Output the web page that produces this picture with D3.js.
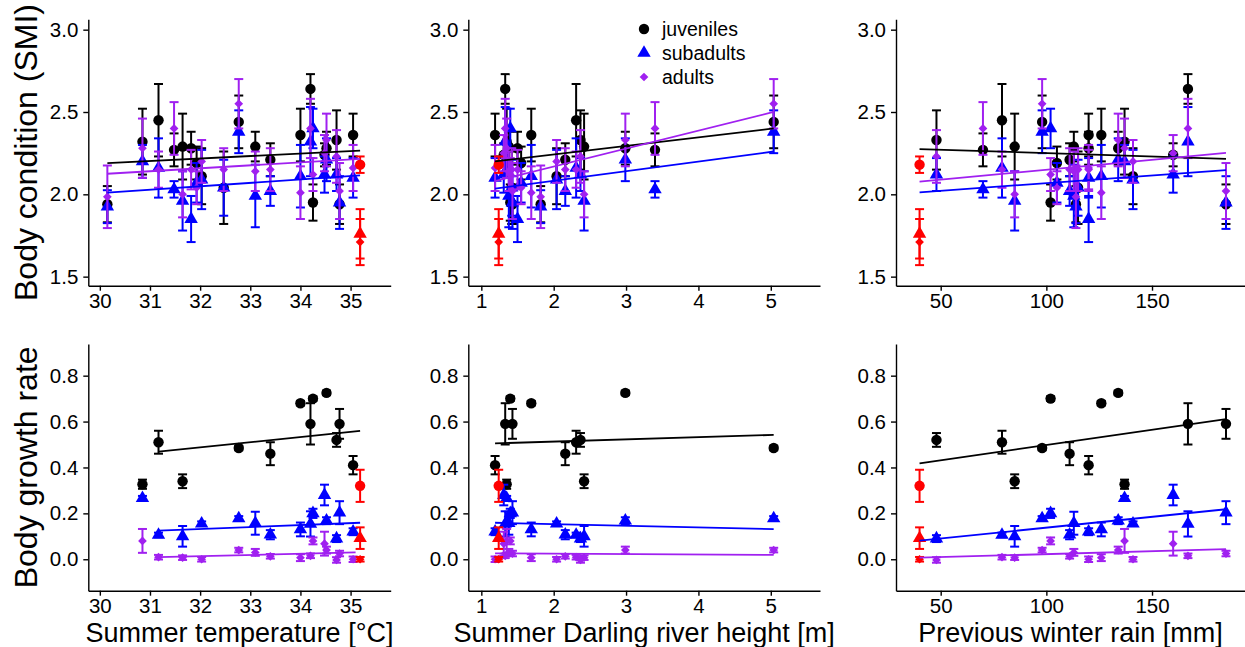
<!DOCTYPE html>
<html>
<head>
<meta charset="utf-8">
<script src="https://cdn.jsdelivr.net/npm/d3@7"></script>
<style>
  body { margin: 0; background: #fff; }
  svg { display: block; font-family: "Liberation Sans", Arial, sans-serif; }
</style>
</head>
<body>
<div id="chart"></div>
<script>
// one entry per year; the last year is the outlier drawn in red
const temp  = [30.15, 30.85, 31.17, 31.48, 31.65, 31.82, 31.93, 32.03, 32.47, 32.77, 33.10, 33.40, 34.00, 34.20, 34.25, 34.52, 34.48, 34.72, 34.78, 35.05, 35.19];
const river = [1.82, 1.35, 2.31, 3.40, 2.42, 1.50, 1.55, 2.04, 1.42, 5.04, 1.38, 2.16, 1.69, 1.33, 1.40, 2.99, 1.31, 2.37, 1.43, 1.19, 1.24];
const rain  = [114, 137, 79, 70, 85, 120, 105, 141, 115, 98, 113, 111, 126, 167, 102, 134, 160, 48, 185, 120, 40];
const outlierYear = 20;

// body condition (SMI), mean and SE
const smiJuv   = [1.94, 2.32, 2.45, 2.27, 2.29, 2.28, 2.19, 2.11, 2.04, 2.44, 2.29, 2.21, 2.36, 2.64, 1.95, 2.28, 2.24, 2.33, 1.94, 2.36, 2.18];
const smiJuvSE = [0.11, 0.20, 0.22, 0.10, 0.20, 0.10, 0.10, 0.17, 0.22, 0.16, 0.09, 0.10, 0.16, 0.09, 0.11, 0.10, 0.07, 0.18, 0.12, 0.13, 0.05];
const smiSub   = [1.925, 2.20, 2.16, 2.03, 1.96, 1.85, 2.07, 2.09, 2.04, 2.38, 1.99, 2.02, 2.11, 2.32, 2.40, 2.21, 2.12, 2.12, 1.95, 2.10, 1.76];
const smiSubSE = [0.10, 0.10, 0.18, 0.05, 0.18, 0.14, 0.12, 0.18, 0.17, 0.13, 0.19, 0.09, 0.19, 0.21, 0.12, 0.13, 0.11, 0.10, 0.16, 0.12, 0.15];
const smiAd    = [1.985, 2.28, 2.15, 2.40, 2.00, 2.15, 2.04, 2.20, 2.15, 2.55, 2.14, 2.15, 2.01, 2.40, 2.12, 2.33, 2.25, 2.23, 2.02, 2.16, 1.71];
const smiAdSE  = [0.19, 0.18, 0.11, 0.16, 0.14, 0.12, 0.10, 0.13, 0.13, 0.15, 0.12, 0.13, 0.16, 0.18, 0.10, 0.16, 0.11, 0.16, 0.17, 0.14, 0.14];

// body growth rate, mean and SE (null = not measured that year)
const grJuv   = [null, 0.327, 0.51, null, 0.34, null, null, null, null, 0.485, null, 0.46, 0.68, 0.59, 0.70, 0.725, null, 0.52, 0.59, 0.41, 0.32];
const grJuvSE = [null, 0.02, 0.05, null, 0.03, null, null, null, null, 0.01, null, 0.05, 0.01, 0.09, 0.01, 0.01, null, 0.03, 0.065, 0.04, 0.07];
const grSub   = [null, 0.266, 0.106, null, 0.10, null, null, 0.155, null, 0.178, 0.157, 0.107, 0.13, 0.154, 0.20, 0.168, 0.28, 0.09, 0.203, 0.12, 0.092];
const grSubSE = [null, 0.01, 0.01, null, 0.045, null, null, 0.01, null, 0.01, 0.05, 0.02, 0.03, 0.055, 0.02, 0.015, 0.045, 0.015, 0.05, 0.015, 0.047];
const grAd    = [null, 0.08, 0.009, null, 0.007, null, null, 0.0, null, 0.04, 0.03, 0.013, 0.007, 0.015, 0.08, 0.04, 0.068, -0.003, 0.025, 0.0, 0.0];
const grAdSE  = [null, 0.052, 0.01, null, 0.01, null, null, 0.01, null, 0.01, 0.015, 0.01, 0.015, 0.01, 0.015, 0.015, 0.052, 0.012, 0.012, 0.012, 0.01];

// fitted lines: [x start, x end, y start, y end] per class (juv, sub, ad)
const fitTempSMI  = [[30.15, 35.19, 2.19, 2.265], [30.15, 35.19, 2.01, 2.115], [30.15, 35.19, 2.125, 2.215]];
const fitRiverSMI = [[1.19, 5.04, 2.20, 2.40], [1.19, 5.04, 2.035, 2.26], [1.19, 5.04, 2.08, 2.50]];
const fitRainSMI  = [[40, 185, 2.275, 2.215], [40, 185, 2.012, 2.147], [40, 185, 2.077, 2.252]];
const fitTempGR   = [[31.17, 35.19, 0.469, 0.559], [31.17, 35.19, 0.125, 0.159], [31.17, 35.10, 0.009, 0.030]];
const fitRiverGR  = [[1.19, 5.04, 0.505, 0.542], [1.19, 5.04, 0.159, 0.131], [1.19, 5.04, 0.026, 0.019]];
const fitRainGR   = [[40, 185, 0.418, 0.611], [40, 185, 0.081, 0.218], [40, 185, 0.007, 0.044]];

const classes = ["juveniles", "subadults", "adults"];
const colors = ["#000000", "#0000ff", "#a020f0"];
const outlierColor = "#ff0000";

const tempTicks = [30, 31, 32, 33, 34, 35];
const riverTicks = [1, 2, 3, 4, 5];
const rainTicks = [50, 100, 150];
const smiTicks = [1.5, 2.0, 2.5, 3.0];
const grTicks = [0, 0.2, 0.4, 0.6, 0.8];

const width = 1245, height = 647;

const cols = [
    {left: 88.3, right: 390.7, domain: [29.77, 35.8], ticks: tempTicks, cov: temp, title: "Summer temperature [°C]", fits: [fitTempSMI, fitTempGR]},
    {left: 468.3, right: 820, domain: [0.82, 5.68], ticks: riverTicks, cov: river, title: "Summer Darling river height [m]", fits: [fitRiverSMI, fitRiverGR]},
    {left: 896, right: 1245, domain: [28.85, 194], ticks: rainTicks, cov: rain, title: "Previous winter rain [mm]", fits: [fitRainSMI, fitRainGR]}
];
const rows = [
    {top: 19.3, bottom: 285.7, domain: [1.445, 3.063], ticks: smiTicks, title: "Body condition (SMI)",
     series: [[smiJuv, smiJuvSE], [smiSub, smiSubSE], [smiAd, smiAdSE]]},
    {top: 344, bottom: 590.7, domain: [-0.137, 0.938], ticks: grTicks, title: "Body growth rate",
     series: [[grJuv, grJuvSE], [grSub, grSubSE], [grAd, grAdSE]]}
];

const shapes = [
    d3.symbol().type(d3.symbolCircle).size(85),
    d3.symbol().type(d3.symbolTriangle).size(78),
    d3.symbol().type(d3.symbolSquare).size(38)
];
const shapeRotate = [0, 0, 45];

const svg = d3.select("#chart").append("svg")
    .attr("width", width)
    .attr("height", height);

rows.forEach(function(row, ri) {
    cols.forEach(function(col, ci) {
        var x = d3.scaleLinear().domain(col.domain).range([col.left, col.right]);
        var y = d3.scaleLinear().domain(row.domain).range([row.bottom, row.top]);
        var g = svg.append("g");

        var xAxis = g.append("g")
            .attr("transform", "translate(0," + row.bottom + ")")
            .call(d3.axisBottom(x).tickValues(col.ticks).tickFormat(d3.format("d"))
                .tickSize(5).tickSizeOuter(0).tickPadding(3));
        var yAxis = g.append("g")
            .attr("transform", "translate(" + col.left + ",0)")
            .call(d3.axisLeft(y).tickValues(row.ticks).tickFormat(d3.format(".1f"))
                .tickSize(5).tickSizeOuter(0).tickPadding(5));
        [xAxis, yAxis].forEach(function(a) {
            a.select(".domain").attr("stroke", "#000").attr("stroke-width", 1.4);
            a.selectAll(".tick line").attr("stroke", "#000").attr("stroke-width", 1.4);
            a.selectAll(".tick text").attr("fill", "#000")
                .style("font-size", "20.5px").style("font-family", "Liberation Sans, Arial, sans-serif");
        });

        // one list of points per class, outlier year kept apart
        var pts = row.series.map(function(s, k) {
            return col.cov.map(function(cv, i) {
                return {x: cv, y: s[0][i], se: s[1][i], k: k, out: i === outlierYear};
            }).filter(function(d) { return d.y !== null; });
        });

        function drawClass(data, color) {
            var bars = g.append("g").attr("stroke", color).attr("stroke-width", 2).attr("fill", "none");
            data.forEach(function(d) {
                var px = x(d.x), y0 = y(d.y - d.se), y1 = y(d.y + d.se);
                bars.append("line").attr("x1", px).attr("x2", px).attr("y1", y0).attr("y2", y1);
                bars.append("line").attr("x1", px - 4.5).attr("x2", px + 4.5).attr("y1", y0).attr("y2", y0);
                bars.append("line").attr("x1", px - 4.5).attr("x2", px + 4.5).attr("y1", y1).attr("y2", y1);
            });
            g.append("g").selectAll("path")
                .data(data)
                .enter()
                .append("path")
                .attr("d", function(d) { return shapes[d.k](); })
                .attr("transform", function(d) {
                    return "translate(" + x(d.x) + "," + y(d.y) + ") rotate(" + shapeRotate[d.k] + ")";
                })
                .attr("fill", color);
        }

        pts.forEach(function(p, k) {
            drawClass(p.filter(function(d) { return !d.out; }), colors[k]);
        });
        pts.forEach(function(p) {
            drawClass(p.filter(function(d) { return d.out; }), outlierColor);
        });

        col.fits[ri].forEach(function(f, k) {
            g.append("line")
                .attr("x1", x(f[0])).attr("x2", x(f[1]))
                .attr("y1", y(f[2])).attr("y2", y(f[3]))
                .attr("stroke", colors[k])
                .attr("stroke-width", 1.8);
        });

        if (ri === 1) {
            svg.append("text")
                .attr("x", (col.left + col.right) / 2)
                .attr("y", 642)
                .attr("text-anchor", "middle")
                .style("font-size", "27px")
                .text(col.title);
        }
        if (ci === 0) {
            svg.append("text")
                .attr("transform", "translate(37," + (row.top + row.bottom) / 2 + ") rotate(-90)")
                .attr("text-anchor", "middle")
                .style("font-size", "32px")
                .text(row.title);
        }
    });
});

// legend in the middle top panel
var legend = svg.append("g");
classes.forEach(function(c, k) {
    var ly = 29 + k * 24;
    legend.append("path")
        .attr("d", shapes[k]())
        .attr("transform", "translate(644," + ly + ") rotate(" + shapeRotate[k] + ")")
        .attr("fill", colors[k]);
    legend.append("text")
        .attr("x", 662)
        .attr("y", ly + 7)
        .style("font-size", "19.5px")
        .text(c);
});
</script>
</body>
</html>
